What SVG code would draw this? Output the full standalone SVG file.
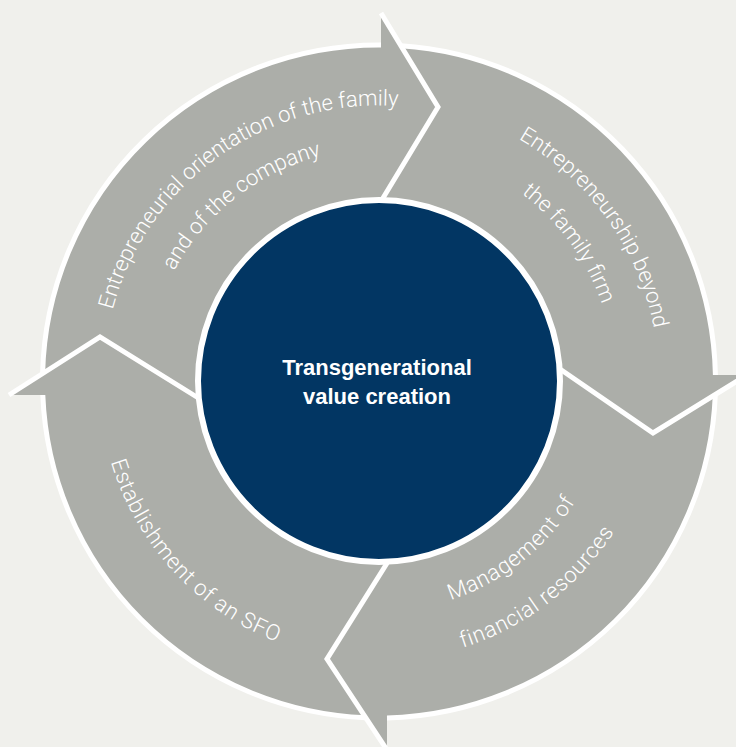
<svg xmlns="http://www.w3.org/2000/svg" width="736" height="747" viewBox="0 0 736 747">
<style>
.arrow{fill:#acaea9;stroke:none}
.edge{fill:none;stroke:#ffffff;stroke-width:5;stroke-linejoin:miter;stroke-miterlimit:10}
.lbl{fill:#ffffff;font-family:Roboto,"Liberation Sans",Arial,sans-serif;font-weight:300;font-size:22px}
.wide{letter-spacing:0.7px}
.core{fill:#ffffff;font-family:"Liberation Sans",Arial,sans-serif;font-weight:bold;font-size:22px;text-anchor:middle}
</style>
<defs>
<path id="a1l1" d="M104.3,407.9 A276,276 0 0 1 493.5,130.3"/>
<path id="a1l2" d="M148.3,413.9 A233,233 0 0 1 466.3,165.5"/>
<path id="a2l1" d="M352.2,102.8 A280,280 0 0 1 633.8,497.6"/>
<path id="a2l2" d="M354.3,146.8 A236,236 0 0 1 594.6,477.5"/>
<path id="a3l1" d="M294.3,595.4 A230,230 0 0 0 606.5,347.9"/>
<path id="a3l2" d="M272.2,639.3 A279,279 0 0 0 655.6,345.1"/>
<path id="a4l1" d="M111.7,298.2 A280,280 0 0 0 440.5,654.6"/>
</defs>
<rect x="0" y="0" width="736" height="747" fill="#f0f0ec"/>
<g id="arrow1">
<path class="arrow" d="M42.6,373.6 A336.5,336.5 0 0 1 381,45 L381,13 L438,107 L380,203 A179,179 0 0 0 200,399 L100,337 Z"/>
<text class="lbl"><textPath href="#a1l1" startOffset="50%" text-anchor="middle">Entrepreneurial orientation of the family</textPath></text>
<text class="lbl"><textPath href="#a1l2" startOffset="50%" text-anchor="middle">and of the company</textPath></text>
</g>
<g id="arrow2">
<path class="arrow" d="M400.8,45.7 A336.5,336.5 0 0 1 715.4,375 L747,375 L653,433 L557,367 A179,179 0 0 0 380,203 L438,107 Z"/>
<text class="lbl"><textPath href="#a2l1" startOffset="50%" text-anchor="middle">Entrepreneurship beyond</textPath></text>
<text class="lbl"><textPath href="#a2l2" startOffset="50%" text-anchor="middle">the family firm</textPath></text>
</g>
<g id="arrow3">
<path class="arrow" d="M715.3,394.6 A336.5,336.5 0 0 1 387,717.9 L387,750 L327,659 L389,560 A179,179 0 0 0 557,367 L653,433 Z"/>
<text class="lbl wide"><textPath href="#a3l1" startOffset="50%" text-anchor="middle">Management of</textPath></text>
<text class="lbl wide"><textPath href="#a3l2" startOffset="50%" text-anchor="middle">financial resources</textPath></text>
</g>
<g id="arrow4">
<path class="arrow" d="M365.7,717.7 A336.5,336.5 0 0 1 42.8,395 L9,395 L100,337 L200,399 A179,179 0 0 0 389,560 L327,659 Z"/>
<text class="lbl wide"><textPath href="#a4l1" startOffset="50%" text-anchor="middle">Establishment of an SFO</textPath></text>
</g>
<g id="connectors">
<path class="edge" d="M42.6,373.6 A336.5,336.5 0 0 1 381,45"/>
<path class="edge" d="M400.8,45.7 A336.5,336.5 0 0 1 715.4,375"/>
<path class="edge" d="M715.3,394.6 A336.5,336.5 0 0 1 387,717.9"/>
<path class="edge" d="M365.7,717.7 A336.5,336.5 0 0 1 42.8,395"/>
<path class="edge" d="M381,13 L438,107 L380,203"/>
<path class="edge" d="M747,375 L653,433 L557,367"/>
<path class="edge" d="M387,750 L327,659 L389,560"/>
<path class="edge" d="M9,395 L100,337 L200,399"/>
</g>
<g id="center">
<circle cx="379" cy="381" r="181" fill="#023663" stroke="#ffffff" stroke-width="6"/>
<text class="core" x="377" y="375">Transgenerational</text>
<text class="core" x="377" y="404">value creation</text>
</g>
</svg>
